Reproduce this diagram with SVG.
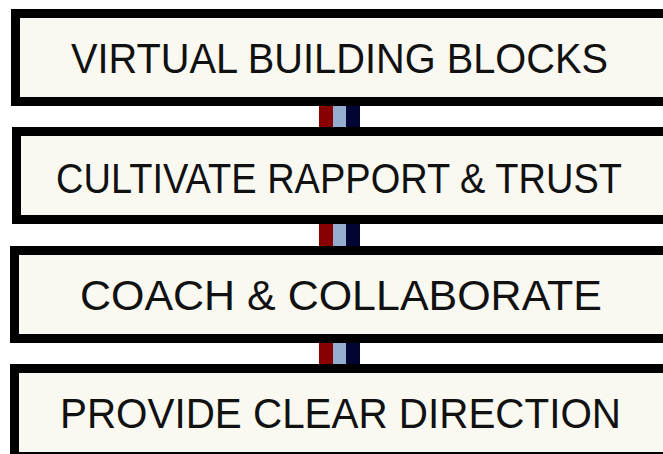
<svg xmlns="http://www.w3.org/2000/svg" width="663" height="454" viewBox="0 0 663 454">
<style>
.box{fill:#F9F9F1;stroke:#000;stroke-width:9}
.lbl{font-family:"Liberation Sans","DejaVu Sans",sans-serif;font-size:43px;fill:#111;text-anchor:middle}
.r{fill:#880000}.b{fill:#93AECF}.n{fill:#000533}
</style>
<rect width="663" height="454" fill="#fff"/>
<g id="connectors">
<rect class="r" x="319" y="106" width="14" height="21"/><rect class="b" x="333" y="106" width="13" height="21"/><rect class="n" x="346" y="106" width="14" height="21"/>
<rect class="r" x="319" y="224" width="14" height="22"/><rect class="b" x="333" y="224" width="13" height="22"/><rect class="n" x="346" y="224" width="14" height="22"/>
<rect class="r" x="319" y="343" width="14" height="21"/><rect class="b" x="333" y="343" width="13" height="21"/><rect class="n" x="346" y="343" width="14" height="21"/>
</g>
<g id="node1"><rect class="box" x="15.5" y="13.5" width="680" height="88"/><text class="lbl" x="339.5" y="73" textLength="537" lengthAdjust="spacingAndGlyphs">VIRTUAL BUILDING BLOCKS</text></g>
<g id="node2"><rect class="box" x="16.5" y="131.5" width="680" height="88"/><text class="lbl" x="339" y="193" textLength="566" lengthAdjust="spacingAndGlyphs">CULTIVATE RAPPORT &amp; TRUST</text></g>
<g id="node3"><rect class="box" x="14.5" y="250.5" width="680" height="88"/><text class="lbl" x="341" y="310" textLength="522" lengthAdjust="spacingAndGlyphs">COACH &amp; COLLABORATE</text></g>
<g id="node4"><rect class="box" x="14.5" y="368.5" width="680" height="88"/><text class="lbl" x="340.5" y="428" textLength="561" lengthAdjust="spacingAndGlyphs">PROVIDE CLEAR DIRECTION</text></g>
</svg>
